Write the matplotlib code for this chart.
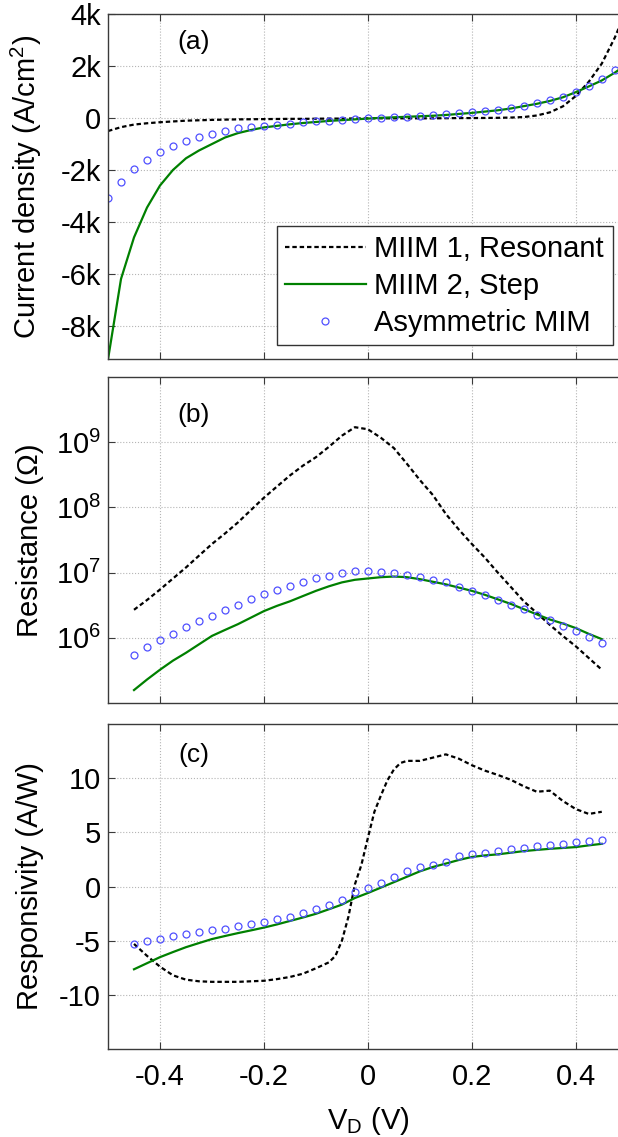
import matplotlib
matplotlib.use('Agg')
import matplotlib.pyplot as plt
import numpy as np
from matplotlib.ticker import FixedLocator, FixedFormatter, NullLocator

plt.rc('font', family='Liberation Sans')
plt.rc('mathtext', fontset='custom', rm='Liberation Sans', it='Liberation Sans:italic')
plt.rc('axes', unicode_minus=False)

# bias voltage grids (V)
v_a = [round(-0.5 + 0.025 * i, 4) for i in range(41)]
v_bc = [round(-0.45 + 0.025 * i, 4) for i in range(37)]

# (a) current density, A/cm^2
j_resonant = [-500, -350, -250, -200, -160, -130, -100, -85, -70, -60, -50, -45, -40, -35, -30,
              -30, -25, -20, -20, -15, -10, -10, -10, -10, -10, -10, -5, 0, 0, 5,
              10, 20, 40, 100, 220, 450, 850, 1400, 2100, 3100, 4300]
j_step = [-9300, -6200, -4600, -3450, -2600, -2000, -1550, -1250, -1000, -750, -580, -460, -360, -300, -240,
          -190, -150, -110, -80, -50, -20, 10, 30, 50, 70, 90, 120, 160, 200, 250,
          300, 370, 460, 550, 660, 800, 1000, 1220, 1450, 1750, 2100]
j_mim = [-3100, -2460, -1960, -1600, -1310, -1070, -890, -730, -600, -500, -400, -350, -290, -250, -210,
         -170, -130, -100, -80, -40, 0, 20, 40, 60, 80, 110, 140, 180, 220, 270,
         330, 400, 480, 570, 680, 820, 1000, 1220, 1500, 1840, 2250]

# (b) resistance, ohm
r_resonant = [2.69e6, 3.80e6, 5.50e6, 8.13e6, 1.20e7, 1.82e7, 2.75e7, 3.98e7, 5.89e7, 9.12e7,
              1.41e8, 2.09e8, 3.09e8, 4.37e8, 5.89e8, 8.51e8, 1.26e9, 1.70e9, 1.58e9, 1.17e9,
              8.13e8, 4.68e8, 2.63e8, 1.55e8, 7.94e7, 4.57e7, 2.75e7, 1.70e7, 1.00e7, 6.03e6,
              3.63e6, 2.40e6, 1.58e6, 1.07e6, 7.41e5, 4.90e5, 3.24e5]
r_step = [1.58e5, 2.29e5, 3.24e5, 4.47e5, 5.89e5, 7.94e5, 1.07e6, 1.32e6, 1.62e6, 2.04e6,
          2.57e6, 3.09e6, 3.63e6, 4.37e6, 5.25e6, 6.17e6, 7.08e6, 7.76e6, 8.13e6, 8.51e6,
          8.71e6, 8.51e6, 7.94e6, 7.24e6, 6.61e6, 5.89e6, 5.25e6, 4.57e6, 3.89e6, 3.31e6,
          2.75e6, 2.29e6, 1.91e6, 1.66e6, 1.41e6, 1.15e6, 9.55e5]
r_mim = [5.50e5, 7.24e5, 9.12e5, 1.15e6, 1.45e6, 1.78e6, 2.19e6, 2.69e6, 3.24e6, 3.89e6,
         4.68e6, 5.50e6, 6.17e6, 7.24e6, 8.13e6, 8.91e6, 9.77e6, 1.05e7, 1.05e7, 1.02e7,
         9.77e6, 9.33e6, 8.71e6, 7.76e6, 7.08e6, 6.03e6, 5.25e6, 4.57e6, 3.80e6, 3.24e6,
         2.75e6, 2.24e6, 1.86e6, 1.51e6, 1.26e6, 1.02e6, 8.32e5]

# (c) responsivity, A/W
v_c_resonant = [-0.45, -0.425, -0.4, -0.375, -0.35, -0.325, -0.3, -0.25, -0.2, -0.175, -0.15, -0.125,
                -0.1, -0.075, -0.0625, -0.05, -0.0375, -0.025, -0.0125, 0, 0.0125, 0.025, 0.0375,
                0.05, 0.0625, 0.075, 0.1, 0.125, 0.15, 0.175, 0.2, 0.225, 0.25, 0.275, 0.3,
                0.325, 0.35, 0.375, 0.4, 0.425, 0.45]
s_resonant = [-5.3, -6.4, -7.4, -8.2, -8.6, -8.75, -8.8, -8.8, -8.7, -8.55, -8.35, -8.05,
              -7.55, -7.0, -6.4, -5.0, -2.8, 0.2, 2.0, 4.5, 6.9, 8.4, 9.8,
              10.8, 11.4, 11.6, 11.6, 11.9, 12.2, 11.8, 11.2, 10.7, 10.3, 9.85, 9.25,
              8.75, 8.85, 7.9, 7.15, 6.7, 6.9]
s_step = [-7.64, -7.08, -6.52, -6.05, -5.6, -5.22, -4.85, -4.57, -4.3, -4.05, -3.79, -3.5, -3.18,
          -2.86, -2.52, -2.1, -1.67, -1.06, -0.6, -0.1, 0.4, 0.9, 1.4, 1.8, 2.12,
          2.45, 2.73, 2.87, 2.97, 3.12, 3.27, 3.38, 3.48, 3.56, 3.64, 3.8, 3.94]
s_mim = [-5.3, -5.06, -4.85, -4.6, -4.36, -4.18, -4.03, -3.88, -3.67, -3.48, -3.27, -3.03, -2.82,
         -2.45, -2.12, -1.7, -1.21, -0.55, -0.1, 0.37, 0.9, 1.4, 1.83, 2.0, 2.3,
         2.79, 3.03, 3.12, 3.27, 3.45, 3.58, 3.7, 3.82, 3.91, 4.09, 4.18, 4.3]

x_ticks = [-0.4, -0.2, 0, 0.2, 0.4]
x_ticklabels = ['-0.4', '-0.2', '0', '0.2', '0.4']
a_ticks = [-8000, -6000, -4000, -2000, 0, 2000, 4000]
a_ticklabels = ['-8k', '-6k', '-4k', '-2k', '0', '2k', '4k']
b_ticks = [1e6, 1e7, 1e8, 1e9]
b_ticklabels = ['$10^{6}$', '$10^{7}$', '$10^{8}$', '$10^{9}$']
c_ticks = [-10, -5, 0, 5, 10]
c_ticklabels = ['-10', '-5', '0', '5', '10']

labels = ['MIIM 1, Resonant', 'MIIM 2, Step', 'Asymmetric MIM']

green = '#008000'
blue = '#5050ff'
spine_col = '#3a3a3a'
fs = 21

fig = plt.figure(figsize=(6.18, 11.37), dpi=100)
ax_a = fig.add_axes([0.1748, 0.684, 0.841, 0.3034])
ax_b = fig.add_axes([0.1748, 0.3817, 0.841, 0.2867])
ax_c = fig.add_axes([0.1748, 0.0774, 0.841, 0.2858])


def draw(ax, xl, yl, xm, ym, xr, yr):
    lr, = ax.plot(xr, yr, color='k', lw=1.6, dashes=(2.0, 1.3))
    ls, = ax.plot(xl, yl, color=green, lw=1.6)
    lm, = ax.plot(xm, ym, 'o', ls='none', mfc='none', mec=blue, ms=5, mew=0.9)
    return lr, ls, lm


def style(ax):
    ax.set_xlim(-0.5, 0.5)
    ax.xaxis.set_major_locator(FixedLocator(x_ticks))
    ax.grid(True, ls=':', color='#b5b5b5', lw=0.8)
    ax.tick_params(direction='in', top=True, right=True, length=5, width=0.8,
                   color=spine_col, labelsize=fs, pad=5)
    for s in ax.spines.values():
        s.set_color(spine_col)
        s.set_linewidth(1.0)
    ax.yaxis.set_label_coords(-0.123, 0.5)


# (a)
h = draw(ax_a, v_a, j_step, v_a, j_mim, v_a, j_resonant)
ax_a.set_ylim(-9300, 4000)
ax_a.yaxis.set_major_locator(FixedLocator(a_ticks))
ax_a.yaxis.set_major_formatter(FixedFormatter(a_ticklabels))
style(ax_a)
ax_a.set_xticklabels([])
ax_a.set_ylabel('Current density (A/cm$^2$)', fontsize=21)
ax_a.text(0.165, 0.919, '(a)', transform=ax_a.transAxes, fontsize=19, ha='center', va='center')
leg = ax_a.legend(h, labels, loc='lower right', bbox_to_anchor=(0.971, 0.04), fontsize=21,
                  handlelength=2.75, handletextpad=0.3, labelspacing=0.3, borderpad=0.3,
                  borderaxespad=0, fancybox=False, framealpha=1, edgecolor='#333333')
leg.get_frame().set_linewidth(1.0)

# (b)
draw(ax_b, v_bc, r_step, v_bc, r_mim, v_bc, r_resonant)
ax_b.set_yscale('log')
ax_b.set_ylim(1e5, 1e10)
ax_b.yaxis.set_major_locator(FixedLocator(b_ticks))
ax_b.yaxis.set_major_formatter(FixedFormatter(b_ticklabels))
ax_b.yaxis.set_minor_locator(NullLocator())
style(ax_b)
ax_b.set_xticklabels([])
ax_b.set_ylabel('Resistance (\u03a9)', fontsize=21)
ax_b.text(0.165, 0.883, '(b)', transform=ax_b.transAxes, fontsize=19, ha='center', va='center')

# (c)
draw(ax_c, v_bc, s_step, v_bc, s_mim, v_c_resonant, s_resonant)
ax_c.set_ylim(-15, 15)
ax_c.yaxis.set_major_locator(FixedLocator(c_ticks))
ax_c.yaxis.set_major_formatter(FixedFormatter(c_ticklabels))
style(ax_c)
ax_c.xaxis.set_major_formatter(FixedFormatter(x_ticklabels))
ax_c.tick_params(axis='x', pad=10)
ax_c.set_ylabel('Responsivity (A/W)', fontsize=21)
ax_c.set_xlabel('V$_\\mathrm{D}$ (V)', fontsize=21, labelpad=10)
ax_c.text(0.165, 0.905, '(c)', transform=ax_c.transAxes, fontsize=19, ha='center', va='center')

fig.savefig('out.png', dpi=100)
